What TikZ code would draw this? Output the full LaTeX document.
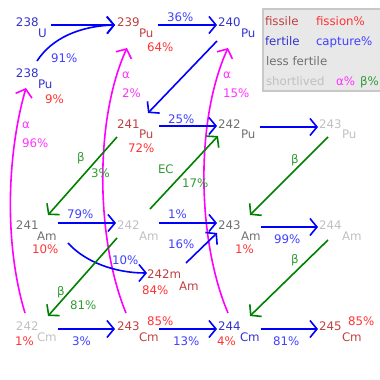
\documentclass[tikz,border=0pt]{standalone}
\usepackage{fontspec}
\setmainfont{DejaVu Sans}
\usetikzlibrary{arrows.meta}
\definecolor{cfis}{RGB}{192,64,64}
\definecolor{cfisp}{RGB}{255,51,51}
\definecolor{cfer}{RGB}{51,51,204}
\definecolor{ccap}{RGB}{64,64,255}
\definecolor{clf}{RGB}{112,112,112}
\definecolor{csl}{RGB}{192,192,192}
\definecolor{cal}{RGB}{255,51,255}
\definecolor{cbe}{RGB}{51,153,51}
\definecolor{arrA}{RGB}{255,0,255}
\definecolor{arrB}{RGB}{0,128,0}
\definecolor{arrN}{RGB}{0,0,255}
\definecolor{legbg}{RGB}{232,232,232}
\definecolor{legbd}{RGB}{200,200,200}
\newcommand\myfs{\fontsize{11.8}{14}\selectfont}
\tikzset{
  txt/.style={anchor=base west, inner sep=0pt, outer sep=0pt, font=\myfs},
  fis/.style={txt, text=cfis},
  fisp/.style={txt, text=cfisp},
  fer/.style={txt, text=cfer},
  capt/.style={txt, text=ccap},
  lf/.style={txt, text=clf},
  sl/.style={txt, text=csl},
  al/.style={txt, text=cal},
  be/.style={txt, text=cbe},
  arrbase/.style={line width=1.6pt, -{Straight Barb[length=7pt,width=17pt]}},
  narr/.style={arrbase, draw=arrN},
  barr/.style={arrbase, draw=arrB},
  aarr/.style={arrbase, draw=arrA},
}
\begin{document}
\begin{tikzpicture}[x=1pt,y=-1pt]
\useasboundingbox (0,0) rectangle (380,380);
% legend
\draw[fill=legbg, draw=legbd, line width=1.5pt] (263,9) rectangle (384,91);
\node[fis]  (lg1) at (265,25) {fissile};
\node[fisp] (lg2) at (316,25) {fission\%};
\node[fer]  (lg3) at (265,45) {fertile};
\node[capt] (lg4) at (316,45) {capture\%};
\node[lf]   (lg5) at (266,65) {less fertile};
\node[sl]   (lg6) at (266,85) {shortlived};
\node[al]   (lg7) at (336,85) {α\%};
\node[be]   (lg8) at (360,85) {β\%};

% coordinates for connectors
\coordinate (s1) at (51,25);   \coordinate (e1) at (115,25);
\coordinate (s2) at (158,25);  \coordinate (e2) at (217,25);
\coordinate (s3) at (217,41);  \coordinate (e3) at (148,113);
\coordinate (s4) at (37,61);
\coordinate (s5) at (159,126); \coordinate (e5) at (217,126);
\coordinate (s6) at (260,127); \coordinate (e6) at (318,127);
\coordinate (s7) at (117,137); \coordinate (e7) at (48,215);
\coordinate (s8) at (328,137); \coordinate (e8) at (250,215);
\coordinate (s9) at (150,209); \coordinate (e9) at (218,136);
\coordinate (s10) at (58,223); \coordinate (e10) at (116,223);
\coordinate (s11) at (159,223); \coordinate (e11) at (217,223);
\coordinate (s12) at (261,227); \coordinate (e12) at (318,227);
\coordinate (s13) at (186,263); \coordinate (e13) at (217,233);
\coordinate (s14) at (68,243);  \coordinate (e14) at (147,273);
\coordinate (s15) at (117,238); \coordinate (e15) at (48,316);
\coordinate (s16) at (328,240); \coordinate (e16) at (250,316);
\coordinate (s17) at (58,329);  \coordinate (e17) at (115,329);
\coordinate (s18) at (159,329); \coordinate (e18) at (217,329);
\coordinate (s19) at (261,329); \coordinate (e19) at (318,329);
\coordinate (sa) at (25,313);   \coordinate (ea) at (26,88);
\coordinate (sb) at (126,313);  \coordinate (eb) at (127,48);
\coordinate (sc) at (228,313);  \coordinate (ec) at (228,48);

% alpha arrows
\draw[aarr] (sa) .. controls (3,240) and (8,150) .. (ea);
\draw[aarr] (sb) .. controls (96,240) and (94,120) .. (eb);
\draw[aarr] (sc) .. controls (197,240) and (195,120) .. (ec);

% capture arrows
\draw[narr] (s1) -- (e1);
\draw[narr] (s2) -- (e2);
\draw[narr] (s3) -- (e3);
\draw[narr] (s4) .. controls (52,38) and (80,26) .. (e1);
\draw[narr] (s5) -- (e5);
\draw[narr] (s6) -- (e6);
\draw[narr] (s10) -- (e10);
\draw[narr] (s11) -- (e11);
\draw[narr] (s12) -- (e12);
\draw[narr] (s13) -- (e13);
\draw[narr] (s14) .. controls (85,262) and (115,273) .. (e14);
\draw[narr] (s17) -- (e17);
\draw[narr] (s18) -- (e18);
\draw[narr] (s19) -- (e19);

% beta / EC arrows
\draw[barr] (s7) -- (e7);
\draw[barr] (s8) -- (e8);
\draw[barr] (s9) -- (e9);
\draw[barr] (s15) -- (e15);
\draw[barr] (s16) -- (e16);

% top row
\node[fer]  (m238u) at (16,27) {238};
\node[fer]  (eU)    at (38,37) {U};
\node[fis]  (m239)  at (117,27) {239};
\node[fis]  (e239)  at (139,37) {Pu};
\node[fisp] (f239)  at (147,51) {64\%};
\node[fer]  (m240)  at (218,27) {240};
\node[fer]  (e240)  at (241,37) {Pu};
\node[capt] (c91)   at (51,62) {91\%};
\node[capt] (c36)   at (167,21) {36\%};
\node[fer]  (m238p) at (16,77) {238};
\node[fer]  (e238p) at (38,88) {Pu};
\node[fisp] (f238p) at (45,103) {9\%};
\node[al]   (aa1)   at (22,128) {α};
\node[al]   (aa2)   at (22,147) {96\%};
\node[al]   (ab1)   at (122,78) {α};
\node[al]   (ab2)   at (122,97) {2\%};
\node[al]   (ac1)   at (223,78) {α};
\node[al]   (ac2)   at (223,97) {15\%};

% Pu row
\node[fis]  (m241p) at (117,128) {241};
\node[fis]  (e241p) at (139,138) {Pu};
\node[fisp] (f241p) at (128,152) {72\%};
\node[capt] (c25)   at (168,123) {25\%};
\node[lf]   (m242p) at (218,128) {242};
\node[lf]   (e242p) at (241,138) {Pu};
\node[sl]   (m243p) at (319,128) {243};
\node[sl]   (e243p) at (342,138) {Pu};
\node[be]   (b1)    at (77,161) {β};
\node[be]   (b1p)   at (91,177) {3\%};
\node[be]   (bec)   at (158,173) {EC};
\node[be]   (becp)  at (182,187) {17\%};
\node[be]   (b2)    at (291,163) {β};

% Am row
\node[lf]   (m241a) at (16,229) {241};
\node[lf]   (e241a) at (37,240) {Am};
\node[fisp] (f241a) at (32,253) {10\%};
\node[capt] (c79)   at (67,218) {79\%};
\node[sl]   (m242a) at (117,229) {242};
\node[sl]   (e242a) at (139,240) {Am};
\node[capt] (c1)    at (168,218) {1\%};
\node[lf]   (m243a) at (218,229) {243};
\node[lf]   (e243a) at (241,240) {Am};
\node[fisp] (f243a) at (235,253) {1\%};
\node[capt] (c99)   at (274,243) {99\%};
\node[sl]   (m244a) at (319,229) {244};
\node[sl]   (e244a) at (342,240) {Am};
\node[capt] (c16)   at (168,248) {16\%};
\node[capt] (c10)   at (112,264) {10\%};
\node[fis]  (m242m) at (147,278) {242m};
\node[fis]  (e242m) at (179,290) {Am};
\node[fisp] (f242m) at (142,294) {84\%};
\node[be]   (b3)    at (57,295) {β};
\node[be]   (b3p)   at (70,309) {81\%};
\node[be]   (b4)    at (291,263) {β};

% Cm row
\node[sl]   (m242c) at (16,330) {242};
\node[sl]   (e242c) at (37,341) {Cm};
\node[fisp] (f242c) at (15,345) {1\%};
\node[capt] (c3)    at (72,345) {3\%};
\node[fis]  (m243c) at (117,330) {243};
\node[fis]  (e243c) at (139,341) {Cm};
\node[fisp] (f243c) at (147,325) {85\%};
\node[capt] (c13)   at (173,345) {13\%};
\node[fer]  (m244c) at (218,330) {244};
\node[fer]  (e244c) at (240,341) {Cm};
\node[fisp] (f244c) at (217,345) {4\%};
\node[capt] (c81)   at (273,345) {81\%};
\node[fis]  (m245c) at (319,330) {245};
\node[fis]  (e245c) at (342,341) {Cm};
\node[fisp] (f245c) at (348,325) {85\%};
\end{tikzpicture}
\end{document}
